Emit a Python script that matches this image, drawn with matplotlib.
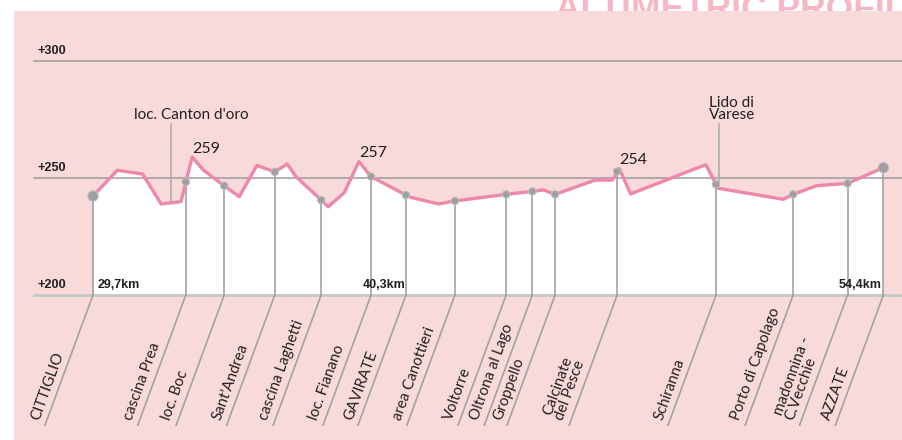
import matplotlib.pyplot as plt
import numpy as np
from matplotlib.patches import Rectangle

# profile of the route, km along the course / metres above sea level
prof_km = [29.70, 30.46, 31.25, 31.83, 32.45, 32.80, 33.15, 33.80, 34.27, 34.82,
           35.38, 35.77, 36.04, 36.83, 37.05, 37.55, 38.01, 38.39, 39.48, 39.61,
           40.49, 41.01, 42.61, 43.43, 43.78, 44.14, 45.39, 45.93, 46.15, 46.50,
           48.85, 49.17, 49.24, 51.27, 51.58, 52.31, 53.28, 54.40]
prof_elev = [242.3, 253.3, 251.7, 238.9, 239.9, 259.0, 253.4, 246.7, 242.0, 255.4,
             252.6, 256.0, 250.6, 240.6, 237.7, 243.7, 257.0, 250.6, 242.7, 241.8,
             238.9, 240.2, 243.0, 244.3, 244.9, 243.0, 249.1, 249.1, 254.0, 243.2,
             255.7, 247.3, 245.6, 240.9, 243.0, 246.7, 247.7, 254.4]
peak_idx = [5, 16, 28]

# places along the route
st_names = ["CITTIGLIO", "cascina Prea", "loc. Boc", "Sant'Andrea", "cascina Laghetti",
            "loc. Fianano", "GAVIRATE", "area Canottieri", "Voltorre", "Oltrona al Lago",
            "Groppello", "Calcinate\ndel Pesce", "Schiranna", "Porto di Capolago",
            "madonnina -\nC.Vecchie", "AZZATE"]
st_km = [29.70, 32.60, 33.80, 35.38, 36.83, 38.39, 39.48, 41.01, 42.61, 43.43,
         44.14, 46.08, 49.17, 51.58, 53.28, 54.40]
st_elev = [242.3, 248.3, 246.7, 252.6, 240.6, 250.6, 242.7, 240.2, 243.0, 244.3,
           243.0, 252.8, 247.3, 243.0, 247.7, 254.4]

km_labels = ["29,7km", "40,3km", "54,4km"]
km_label_idx = [0, 6, 15]

callout_names = ["loc. Canton d'oro", "Lido di\nVarese"]
callout_km = [32.14, 49.27]
callout_elev = [239.8, 246.8]

grid_levels = [200, 250, 300]

PINK_BG = '#f9dada'
PINK_LINE = '#ee88a9'
GREY = '#a2a2a2'
TXT = '#231f20'
LABEL_FONT = 'Lato'

W, H = 903, 440
fig = plt.figure(figsize=(W / 100, H / 100), dpi=100)
ax = fig.add_axes([0, 0, 1, 1])
ax.set_facecolor('none')
ax.axis('off')
# pixel -> data: 32 px per km, 2.34 px per metre
ax.set_xlim(29.7 - 93 / 32, 29.7 + (W - 93) / 32)
ax.set_ylim(250 - (H - 178) / 2.34, 250 + 178 / 2.34)

ax.text(555 / W, 1 - 19 / H, 'ALTIMETRIC PROFILE', transform=ax.transAxes,
        fontsize=25.5, fontweight='bold', family='Liberation Sans', color='#f5b6c6',
        ha='left', va='baseline', zorder=0.5)
ax.add_patch(Rectangle((14 / W, 0), 1, 1 - 11 / H, transform=ax.transAxes,
                       facecolor=PINK_BG, edgecolor='none', zorder=1))

ax.fill_between(prof_km, prof_elev, grid_levels[0], color='white', lw=0, zorder=1.5)

for g in grid_levels:
    base = g == grid_levels[0]
    ax.axhline(g, xmin=34 / W, xmax=1, color='#c6c6c6' if base else '#9c9c9c',
               lw=2 if base else 1.1, zorder=2)
    ax.annotate('+%d' % g, xy=(38 / W, g), xycoords=('axes fraction', 'data'),
                xytext=(0, 3), textcoords='offset points', fontsize=9.2,
                fontweight='bold', family='Liberation Sans', color=TXT,
                ha='left', va='bottom', zorder=6)

# stations: vertical stem, slanted leader and rotated name
DX, DY = 1.5, 55.6
for name, k, e in zip(st_names, st_km, st_elev):
    ax.plot([k, k], [grid_levels[0], e], color=GREY, lw=1.2, zorder=3)
    ax.plot([k, k - DX], [grid_levels[0], grid_levels[0] - DY], color=GREY, lw=1.2, zorder=3)
    ax.annotate(name, xy=(k - DX, grid_levels[0] - DY), xytext=(-2.2, 2.5),
                textcoords='offset points', rotation=70, rotation_mode='anchor',
                ha='left', va='bottom', multialignment='left', linespacing=0.9,
                fontsize=10.8, family=LABEL_FONT, color=TXT, zorder=6)

for lab, i in zip(km_labels, km_label_idx):
    first = i == 0
    ax.annotate(lab, xy=(st_km[i], grid_levels[0]), xytext=(3 if first else (0 if i < 15 else -1.5), 3),
                textcoords='offset points', fontsize=9, fontweight='bold',
                family='Liberation Sans', color=TXT, ha='left' if first else 'right',
                va='bottom', zorder=6)

ax.plot(prof_km, prof_elev, color=PINK_LINE, lw=2.4, zorder=4)

sizes = [55 if i in (0, len(st_km) - 1) else 28 for i in range(len(st_km))]
ax.scatter(st_km, st_elev, s=sizes, color='#9f9f9f', edgecolors='#bcbcbc',
           linewidths=0.8, zorder=5)

for i in peak_idx:
    ax.annotate('%d' % prof_elev[i], xy=(prof_km[i], prof_elev[i]), xytext=(0, 1),
                textcoords='offset points', fontsize=11.5, family=LABEL_FONT,
                color=TXT, ha='left', va='bottom', zorder=6)

# callouts
CALLOUT_TOP = 273.0
text_dx = [-27, -7.5]
for name, k, e, dx in zip(callout_names, callout_km, callout_elev, text_dx):
    ax.plot([k, k], [e, CALLOUT_TOP], color='#aaaaaa', lw=1.1, zorder=3.5)
    ax.annotate(name, xy=(k, CALLOUT_TOP), xytext=(dx, 1.5), textcoords='offset points',
                fontsize=11, family=LABEL_FONT, color=TXT, ha='left', va='bottom',
                linespacing=0.85, zorder=6)

fig.savefig('out.png', dpi=100)
